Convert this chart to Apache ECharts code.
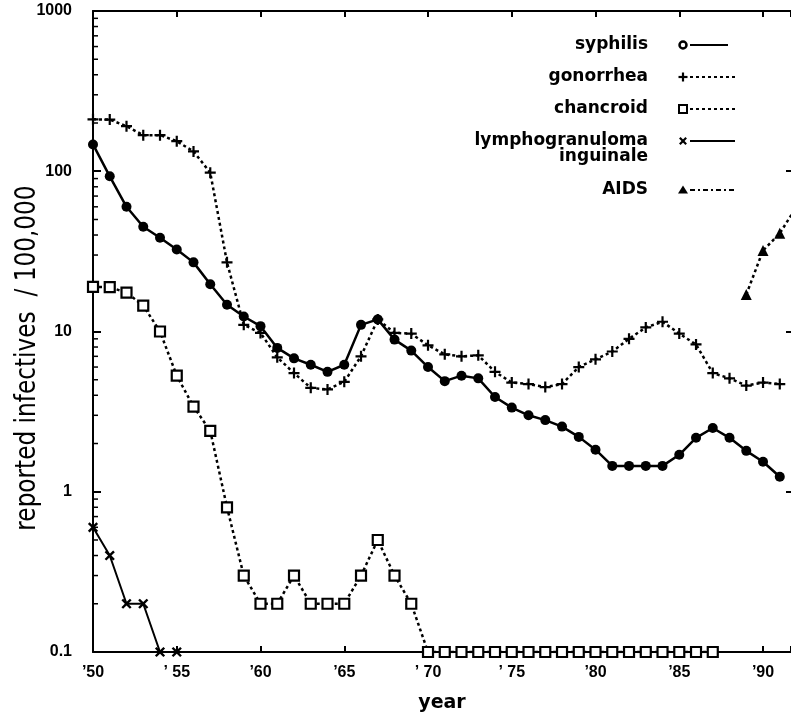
<!DOCTYPE html>
<html>
<head>
<meta charset="utf-8">
<script src="https://cdn.jsdelivr.net/npm/echarts@6/dist/echarts.min.js"></script>
<style>
  html, body { margin: 0; padding: 0; background: #fff; }
  #chart { width: 791px; height: 715px; }
</style>
</head>
<body>
<div id="chart"></div>
<script>
// Reported cases per 100,000 of five sexually transmitted diseases, 1950-1991
const years = [1950, 1951, 1952, 1953, 1954, 1955, 1956, 1957, 1958, 1959,
               1960, 1961, 1962, 1963, 1964, 1965, 1966, 1967, 1968, 1969,
               1970, 1971, 1972, 1973, 1974, 1975, 1976, 1977, 1978, 1979,
               1980, 1981, 1982, 1983, 1984, 1985, 1986, 1987, 1988, 1989,
               1990, 1991];

const syphilis = [147, 93, 60, 45, 38.5, 32.5, 27, 19.7, 14.7, 12.4,
                  10.8, 7.9, 6.8, 6.2, 5.6, 6.2, 11.0, 11.9, 8.9, 7.6,
                  6.0, 4.9, 5.3, 5.1, 3.9, 3.35, 3.0, 2.8, 2.55, 2.2,
                  1.83, 1.45, 1.45, 1.45, 1.45, 1.7, 2.17, 2.5, 2.17, 1.8,
                  1.54, 1.24];

const gonorrhea = [211, 210, 191, 168, 168, 154, 133, 98, 27, 11,
                   9.8, 6.9, 5.5, 4.45, 4.35, 4.85, 7.0, 11.9, 9.8, 9.7,
                   8.2, 7.2, 7.0, 7.1, 5.6, 4.8, 4.7, 4.5, 4.7, 6.0,
                   6.7, 7.5, 9.0, 10.6, 11.5, 9.7, 8.3, 5.5, 5.1, 4.6,
                   4.8, 4.7];

const chancroid = [19, 18.9, 17.5, 14.5, 10, 5.3, 3.4, 2.4, 0.8, 0.3,
                   0.2, 0.2, 0.3, 0.2, 0.2, 0.2, 0.3, 0.5, 0.3, 0.2,
                   0.1, 0.1, 0.1, 0.1, 0.1, 0.1, 0.1, 0.1, 0.1, 0.1,
                   0.1, 0.1, 0.1, 0.1, 0.1, 0.1, 0.1, 0.1];

const lymphogranuloma = [0.6, 0.4, 0.2, 0.2, 0.1, 0.1];

const aidsYears = [1989, 1990, 1991, 1992];
const aids = [17, 32, 41, 60];

const yearTicks = [1950, 1955, 1960, 1965, 1970, 1975, 1980, 1985, 1990];
const yearTickLabels = ['\u201950', '\u2019 55', '\u201960', '\u201965', '\u2019 70',
                        '\u2019 75', '\u201980', '\u201985', '\u201990'];
const valueTickLabels = ['0.1', '1', '10', '100', '1000'];

const seriesNames = ['syphilis', 'gonorrhea', 'chancroid',
                     'lymphogranuloma\ninguinale', 'AIDS'];

function pairs(xs, vs) {
  return vs.map((v, i) => [xs[i], v]);
}

// short minor ticks (2..9 within each decade) on the left axis
const minorTickValues = [];
[0.1, 1, 10, 100].forEach(d => {
  for (let m = 2; m <= 9; m++) minorTickValues.push([1950, +(d * m).toPrecision(3)]);
});

const plusPath = 'path://M4,0h2v4h4v2h-4v4h-2v-4h-4v-2h4z';
const dotted = [3, 3];
const labelFont = '"Liberation Sans", Arial, sans-serif';
const legendFont = 'bold 17px "DejaVu Sans", sans-serif';

const chart = echarts.init(document.getElementById('chart'), null, { renderer: 'canvas' });

// the frame runs just past the right edge of the page
const xAxisCommon = {
  type: 'value', min: 1950, max: 1991.67, interval: 5,
  axisLine: { lineStyle: { color: '#000', width: 2 } },
  axisTick: { inside: true, length: 6, lineStyle: { color: '#000', width: 2 } },
  splitLine: { show: false }
};
const yAxisCommon = {
  type: 'log', logBase: 10, min: 0.1, max: 1000,
  axisLine: { show: true, lineStyle: { color: '#000', width: 2 } },
  axisTick: { show: true, inside: true, length: 8, lineStyle: { color: '#000', width: 2 } },
  splitLine: { show: false }
};

// legend rows drawn beside the curves: text, marker and line sample
const legendRowY = [45, 77, 109, 141, 190];
const legendGraphics = [];
const legendMarkers = [
  { type: 'circle', shape: { cx: 683, cy: 0, r: 3.5 }, style: { fill: '#fff', stroke: '#000', lineWidth: 2.5 } },
  { type: 'path', plus: true },
  { type: 'rect', shape: { x: 679, y: -4, width: 8, height: 8 }, style: { fill: '#fff', stroke: '#000', lineWidth: 2 } },
  { type: 'path', cross: true },
  { type: 'polygon', shape: { points: [[683, -4.5], [688, 3.5], [678, 3.5]] }, style: { fill: '#000' } }
];
const legendLineDash = [null, dotted, dotted, null, [5, 3, 2, 3]];
const legendLineEnd = [728, 735, 735, 735, 735];

seriesNames.forEach((name, i) => {
  const y = legendRowY[i];
  const twoLines = name.indexOf('\n') >= 0;
  legendGraphics.push({
    type: 'text', x: 648, y: twoLines ? y + 8 : y,
    style: {
      text: name, font: legendFont, fill: '#000',
      align: 'right', textAlign: 'right',
      verticalAlign: 'middle', textVerticalAlign: 'middle',
      lineHeight: 16
    }
  });
  legendGraphics.push({
    type: 'line',
    shape: { x1: 690, y1: y, x2: legendLineEnd[i], y2: y },
    style: { stroke: '#000', lineWidth: 2, lineDash: legendLineDash[i] }
  });
  const mk = legendMarkers[i];
  if (mk.plus || mk.cross) {
    const s = 4.5;
    const rot = mk.cross ? Math.PI / 4 : 0;
    legendGraphics.push({
      type: 'group', x: 683, y: y, rotation: rot,
      children: [
        { type: 'line', shape: { x1: -s, y1: 0, x2: s, y2: 0 }, style: { stroke: '#000', lineWidth: 2.2 } },
        { type: 'line', shape: { x1: 0, y1: -s, x2: 0, y2: s }, style: { stroke: '#000', lineWidth: 2.2 } }
      ]
    });
  } else {
    const el = JSON.parse(JSON.stringify(mk));
    el.y = y;
    legendGraphics.push(el);
  }
});

// vertical axis title
legendGraphics.push({
  type: 'text', x: 27, y: 358, rotation: Math.PI / 2, scaleX: 0.89,
  style: {
    text: 'reported infectives  / 100,000',
    font: '29px "Liberation Sans Narrow", "DejaVu Sans Condensed", sans-serif',
    fill: '#000',
    align: 'center', textAlign: 'center',
    verticalAlign: 'middle', textVerticalAlign: 'middle'
  }
});

const option = {
  backgroundColor: '#fff',
  animation: false,
  grid: { left: 93, top: 11, right: 0, height: 641, containLabel: false, outerBoundsMode: 'none' },
  xAxis: [
    Object.assign({}, xAxisCommon, {
      position: 'bottom',
      name: 'year', nameLocation: 'middle', nameGap: 42,
      nameTextStyle: { fontFamily: '"DejaVu Sans", sans-serif', fontWeight: 'bold', fontSize: 19, color: '#000' },
      axisLabel: {
        margin: 13, color: '#000', fontFamily: labelFont, fontWeight: 'bold', fontSize: 16,
        formatter: v => {
          const k = yearTicks.indexOf(Math.round(v * 100) / 100);
          return k >= 0 ? yearTickLabels[k] : '';
        }
      }
    }),
    Object.assign({}, xAxisCommon, { position: 'top', axisLabel: { show: false } })
  ],
  yAxis: [
    Object.assign({}, yAxisCommon, {
      position: 'left',
      axisLabel: {
        margin: 21, color: '#000', fontFamily: labelFont, fontWeight: 'bold', fontSize: 16,
        formatter: v => {
          const k = Math.round(Math.log10(v)) + 1;
          return valueTickLabels[k] !== undefined ? valueTickLabels[k] : '';
        }
      }
    }),
    Object.assign({}, yAxisCommon, {
      position: 'right',
      axisLine: { show: false },
      axisTick: { show: true, inside: true, length: 5, lineStyle: { color: '#000', width: 2 } },
      axisLabel: { show: false }
    })
  ],
  graphic: legendGraphics,
  series: [
    {
      name: 'minor ticks', type: 'custom', silent: true, z: 1,
      data: minorTickValues,
      renderItem: (params, api) => {
        const p = api.coord([api.value(0), api.value(1)]);
        return {
          type: 'line',
          shape: { x1: p[0], y1: p[1], x2: p[0] + 5, y2: p[1] },
          style: { stroke: '#000', lineWidth: 1.5 }
        };
      }
    },
    {
      name: seriesNames[2], type: 'line', z: 3,
      data: pairs(years, chancroid),
      symbol: 'rect', symbolSize: 10,
      itemStyle: { color: '#fff', borderColor: '#000', borderWidth: 2.2 },
      lineStyle: { color: '#000', width: 2.5, type: dotted }
    },
    {
      name: seriesNames[1], type: 'line', z: 3,
      data: pairs(years, gonorrhea),
      symbol: plusPath, symbolSize: 11,
      itemStyle: { color: '#000' },
      lineStyle: { color: '#000', width: 2.5, type: dotted }
    },
    {
      name: seriesNames[3], type: 'line', z: 4,
      data: pairs(years, lymphogranuloma),
      symbol: plusPath, symbolSize: 12, symbolRotate: 45,
      itemStyle: { color: '#000' },
      lineStyle: { color: '#000', width: 2 }
    },
    {
      name: seriesNames[4], type: 'line', z: 4,
      data: pairs(aidsYears, aids),
      symbol: 'triangle', symbolSize: 11,
      itemStyle: { color: '#000' },
      lineStyle: { color: '#000', width: 2.5, type: dotted }
    },
    {
      name: seriesNames[0], type: 'line', z: 5,
      data: pairs(years, syphilis),
      symbol: 'circle', symbolSize: 10,
      itemStyle: { color: '#000' },
      lineStyle: { color: '#000', width: 2.5 }
    }
  ]
};

chart.setOption(option);
</script>
</body>
</html>
